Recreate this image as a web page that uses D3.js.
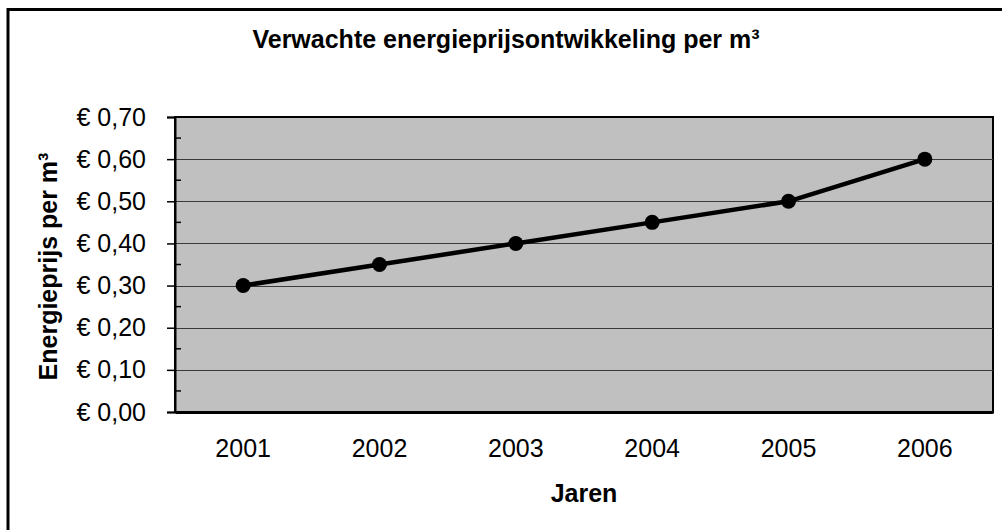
<!DOCTYPE html>
<html>
<head>
<meta charset="utf-8">
<script src="https://cdn.jsdelivr.net/npm/d3@7"></script>
<style>
  html, body { margin: 0; padding: 0; background: #fff; }
  svg { display: block; font-family: "Liberation Sans", Arial, sans-serif; }
</style>
</head>
<body>
<svg id="chart" width="1002" height="530"></svg>
<script>
// data
const years = ["2001", "2002", "2003", "2004", "2005", "2006"];
const prices = [0.30, 0.35, 0.40, 0.45, 0.50, 0.60];
const yTicks = [0, 0.1, 0.2, 0.3, 0.4, 0.5, 0.6, 0.7];
const yMinorTicks = [0.05, 0.15, 0.25, 0.35, 0.45, 0.55, 0.65];

const plot = { left: 175, top: 117, right: 993, bottom: 412 };
const svg = d3.select("#chart");

// outer chart border (runs off the right/bottom edge)
svg.append("rect")
    .attr("x", 8).attr("y", 9.5)
    .attr("width", 1010).attr("height", 530)
    .attr("fill", "#fff")
    .attr("stroke", "#000")
    .attr("stroke-width", 3);

const x = d3.scaleBand().domain(years).range([plot.left, plot.right]);
const y = d3.scaleLinear().domain([0, 0.7]).range([plot.bottom, plot.top]);

// plot area
svg.append("rect")
    .attr("x", plot.left).attr("y", plot.top)
    .attr("width", plot.right - plot.left).attr("height", plot.bottom - plot.top)
    .attr("fill", "#c0c0c0")
    .attr("stroke", "#000")
    .attr("stroke-width", 2);

// gridlines
svg.append("g")
    .selectAll("line")
    .data(yTicks.slice(1, -1))
    .enter().append("line")
    .attr("x1", plot.left).attr("x2", plot.right)
    .attr("y1", d => Math.round(y(d)) + 0.5).attr("y2", d => Math.round(y(d)) + 0.5)
    .attr("stroke", "#3a3a3a")
    .attr("stroke-width", 1);

// y axis: major ticks outside, minor ticks inside
const fmt = d => "€ " + d.toFixed(2).replace(".", ",");
const yAxis = svg.append("g")
    .attr("transform", `translate(${plot.left},0)`)
    .call(d3.axisLeft(y).tickValues(yTicks).tickFormat(fmt).tickSize(8).tickPadding(21));
yAxis.select(".domain").attr("stroke-width", 2);
yAxis.selectAll(".tick line").attr("stroke-width", 1.5);
yAxis.selectAll("text").attr("font-size", 25).attr("fill", "#000");

svg.append("g")
    .selectAll("line")
    .data(yMinorTicks)
    .enter().append("line")
    .attr("x1", plot.left).attr("x2", plot.left + 6)
    .attr("y1", d => y(d)).attr("y2", d => y(d))
    .attr("stroke", "#000")
    .attr("stroke-width", 1.5);

// x axis
const xAxis = svg.append("g")
    .attr("transform", `translate(0,${plot.bottom})`)
    .call(d3.axisBottom(x).tickSize(0).tickPadding(27));
xAxis.select(".domain").attr("stroke-width", 3);
xAxis.selectAll("text").attr("font-size", 25).attr("fill", "#000");

// line + markers
const cx = d => x(d) + x.bandwidth() / 2;
svg.append("path")
    .datum(years.map((d, i) => [cx(d), y(prices[i])]))
    .attr("fill", "none")
    .attr("stroke", "#000")
    .attr("stroke-width", 4.5)
    .attr("d", d3.line());

svg.append("g")
    .selectAll("circle")
    .data(years)
    .enter().append("circle")
    .attr("cx", d => cx(d))
    .attr("cy", (d, i) => y(prices[i]))
    .attr("r", 7.5)
    .attr("fill", "#000");

// titles
svg.append("text")
    .attr("x", 506).attr("y", 48)
    .attr("text-anchor", "middle")
    .attr("font-size", 25).attr("font-weight", "bold")
    .text("Verwachte energieprijsontwikkeling per m³");

svg.append("text")
    .attr("transform", `translate(57,${(plot.top + plot.bottom) / 2 + 2}) rotate(-90)`)
    .attr("text-anchor", "middle")
    .attr("font-size", 25).attr("font-weight", "bold")
    .text("Energieprijs per m³");

svg.append("text")
    .attr("x", (plot.left + plot.right) / 2).attr("y", 502)
    .attr("text-anchor", "middle")
    .attr("font-size", 25).attr("font-weight", "bold")
    .text("Jaren");
</script>
</body>
</html>
